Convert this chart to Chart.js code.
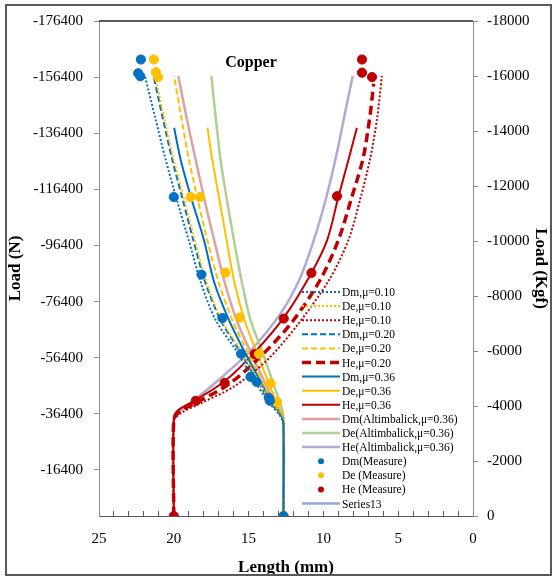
<!DOCTYPE html>
<html>
<head>
<meta charset="utf-8">
<script src="https://cdn.jsdelivr.net/npm/chart.js@4/dist/chart.umd.min.js"></script>
<style>
  html, body { margin: 0; padding: 0; background: #fff; }
  #wrap { position: relative; width: 557px; height: 581px; }
  #frame { position: absolute; left: 5px; top: 4px; width: 543px; height: 568px; border: 2px solid #595959; pointer-events: none; }
  canvas { position: absolute; left: 0; top: 0; }
</style>
</head>
<body>
<div id="wrap">
  <canvas id="chart" width="557" height="581"></canvas>
  <div id="frame"></div>
</div>
<script>
/* ===========================
   DATA  (length mm, load Kgf)
=========================== */

const loadTicksN = [-176400, -156400, -136400, -116400, -96400, -76400, -56400, -36400, -16400];

// model curves, [length, load]
const dm010 = [[12.67, 0], [12.67, -3300], [12.9, -3650], [13.6, -4100], [14.6, -4900], [15.8, -6000], [17.2, -7120], [18.2, -8500], [19.0, -10030], [19.8, -11500], [20.53, -12930], [21.25, -14500], [21.93, -16000]];
const de010 = [[12.67, 0], [12.67, -3300], [12.85, -3650], [13.45, -4100], [14.35, -4900], [15.5, -6000], [16.8, -7120], [17.8, -8500], [18.6, -10030], [19.3, -11500], [20.0, -12930], [20.65, -14500], [21.25, -16000]];
const he010 = [[20, 0], [20, -3450], [19.5, -3750], [18.2, -4100], [16.0, -4700], [13.8, -5650], [11.8, -6900], [9.6, -8600], [8.33, -10030], [7.5, -11600], [6.87, -13000], [6.4, -14500], [6.09, -16000]];
const dm020 = [[12.67, 0], [12.67, -3300], [12.85, -3650], [13.5, -4100], [14.4, -4900], [15.6, -6000], [16.87, -7120], [17.9, -8500], [18.69, -10030], [19.4, -11500], [20.09, -12930], [20.75, -14500], [21.35, -16000]];
const de020 = [[12.67, 0], [12.67, -3350], [12.8, -3650], [13.35, -4100], [14.1, -4900], [15.1, -6000], [16.09, -7120], [17.0, -8500], [17.76, -10030], [18.4, -11500], [18.98, -12930], [19.5, -14500], [19.98, -16000]];
const he020 = [[20, 0], [20, -3500], [19.6, -3800], [18.4, -4150], [16.3, -4800], [14.2, -5800], [12.1, -7050], [10.2, -8600], [9.0, -10030], [8.1, -11600], [7.35, -13000], [6.9, -14500], [6.64, -15720]];
const dm036 = [[12.67, 0], [12.67, -3350], [12.8, -3650], [13.4, -4100], [14.2, -4900], [15.3, -6000], [16.31, -7120], [17.3, -8500], [17.98, -10030], [18.8, -11500], [19.53, -12930], [19.98, -14120]];
const de036 = [[12.67, 0], [12.67, -3400], [12.75, -3700], [13.1, -4100], [13.7, -4900], [14.5, -6000], [15.27, -7120], [15.95, -8500], [16.47, -10030], [16.95, -11500], [17.42, -12930], [17.75, -14120]];
const he036 = [[20, 0], [20, -3550], [19.7, -3850], [18.6, -4200], [16.6, -4900], [14.6, -5950], [12.6, -7250], [10.8, -8840], [9.75, -10030], [9.0, -11600], [8.3, -13000], [7.76, -14120]];
const dmAlt = [[12.67, 0], [12.67, -3350], [12.78, -3650], [13.25, -4100], [13.95, -4900], [14.9, -6000], [15.8, -7120], [16.6, -8500], [17.3, -10030], [17.95, -11500], [18.53, -12930], [19.15, -14500], [19.7, -16000]];
const deAlt = [[12.67, 0], [12.67, -3500], [12.72, -3800], [12.95, -4200], [13.4, -4900], [14.1, -6000], [14.87, -7120], [15.45, -8500], [15.98, -10030], [16.45, -11500], [16.87, -12930], [17.2, -14500], [17.49, -16000]];
const heAlt = [[20, 0], [20, -3500], [19.6, -3800], [18.9, -4100], [17.1, -4900], [14.9, -6000], [12.87, -7360], [11.6, -8600], [10.64, -10030], [9.8, -11600], [9.1, -13200], [8.5, -14800], [8.04, -16000]];
const series13 = [];

// measured points, [length, load]
const dmMeasure = [[22.2, -16600], [22.38, -16100], [22.24, -15990], [20.0, -11600], [18.15, -8780], [16.75, -7200], [15.5, -5900], [14.87, -5060], [14.47, -4880], [13.65, -4300], [13.58, -4190], [12.67, 0]];
const deMeasure = [[21.33, -16600], [21.2, -16140], [21.05, -15960], [18.87, -11600], [18.25, -11600], [16.55, -8850], [15.58, -7220], [14.3, -5890], [13.53, -4820], [13.09, -4150], [12.65, 0]];
const heMeasure = [[7.42, -16600], [7.42, -16120], [6.75, -15960], [9.09, -11630], [10.8, -8840], [12.65, -7180], [14.6, -5890], [16.6, -4840], [18.53, -4190], [20, 0]];

/* ===========================
   DATASETS
=========================== */

const BLUE = '#0070C0';
const YELLOW = '#FFC000';
const RED = '#C00000';

const toXY = pts => pts.map(p => ({ x: p[0], y: p[1] }));

function curve(label, pts, color, width, dash) {
  return {
    label,
    data: toXY(pts),
    showLine: true,
    borderColor: color,
    backgroundColor: color,
    borderWidth: width,
    borderDash: dash,
    pointRadius: 0,
    tension: 0.3,
    yAxisID: 'yKgf',
    order: 1
  };
}

function measured(label, pts, color) {
  return {
    label,
    data: toXY(pts),
    showLine: false,
    backgroundColor: color,
    borderColor: color,
    pointRadius: 4.6,
    pointHoverRadius: 4.6,
    yAxisID: 'yKgf',
    order: 0
  };
}

const dotted = [2, 2];
const dashed = [6, 3];

const datasets = [
  curve('Dm,\u03bc=0.10', dm010, BLUE, 2, dotted),
  curve('De,\u03bc=0.10', de010, YELLOW, 2, dotted),
  curve('He,\u03bc=0.10', he010, RED, 2, dotted),
  curve('Dm,\u03bc=0.20', dm020, BLUE, 2, dashed),
  curve('De,\u03bc=0.20', de020, YELLOW, 2, dashed),
  curve('He,\u03bc=0.20', he020, RED, 3.5, [9, 5]),
  curve('Dm,\u03bc=0.36', dm036, BLUE, 2, []),
  curve('De,\u03bc=0.36', de036, YELLOW, 2, []),
  curve('He,\u03bc=0.36', he036, RED, 2, []),
  curve('Dm(Altimbalick,\u03bc=0.36)', dmAlt, '#D9A3A1', 2.5, []),
  curve('De(Altimbalick,\u03bc=0.36)', deAlt, '#AFCF94', 2.5, []),
  curve('He(Altimbalick,\u03bc=0.36)', heAlt, '#B3A8D0', 2.5, []),
  measured('Dm(Measure)', dmMeasure, BLUE),
  measured('De (Measure)', deMeasure, YELLOW),
  measured('He (Measure)', heMeasure, RED),
  curve('Series13', series13, '#8EA9DB', 2.5, [])
];

/* ===========================
   PLOT DECORATIONS
=========================== */

// legend inside the plot, caption, top frame line
const plotExtras = {
  id: 'plotExtras',
  afterDatasetsDraw(chart) {
    const { ctx, chartArea } = chart;
    ctx.save();

    ctx.strokeStyle = '#262626';
    ctx.lineWidth = 1.5;
    ctx.beginPath();
    ctx.moveTo(chartArea.left, chartArea.top);
    ctx.lineTo(chartArea.right, chartArea.top);
    ctx.stroke();

    ctx.fillStyle = '#000';
    ctx.font = 'bold 16px "Liberation Serif"';
    ctx.textAlign = 'center';
    ctx.textBaseline = 'middle';
    ctx.fillText('Copper', chartArea.left + 152, chartArea.top + 42);

    const x0 = chartArea.right - 171;
    const y0 = chartArea.top + 271;
    const rowH = 14.1;
    ctx.font = '11.5px "Liberation Serif"';
    ctx.textAlign = 'left';
    chart.data.datasets.forEach((ds, i) => {
      const y = y0 + i * rowH;
      if (ds.showLine === false) {
        ctx.fillStyle = ds.backgroundColor;
        ctx.beginPath();
        ctx.arc(x0 + 19, y, 3, 0, Math.PI * 2);
        ctx.fill();
      } else {
        ctx.setLineDash(ds.borderDash || []);
        ctx.lineWidth = ds.borderWidth;
        ctx.strokeStyle = ds.borderColor;
        ctx.beginPath();
        ctx.moveTo(x0, y);
        ctx.lineTo(x0 + 38, y);
        ctx.stroke();
        ctx.setLineDash([]);
      }
      ctx.fillStyle = '#000';
      ctx.fillText(ds.label, x0 + 40, y + 1);
    });

    ctx.restore();
  }
};

/* ===========================
   CHART
=========================== */

Chart.defaults.font.family = '"Liberation Serif", "Times New Roman", serif';
Chart.defaults.color = '#000';

const tickFont = { size: 15 };
const titleFont = { size: 17, weight: 'bold' };

new Chart(document.getElementById('chart'), {
  type: 'scatter',
  data: { datasets },
  options: {
    responsive: false,
    animation: false,
    layout: { padding: { top: 21, left: 0, right: 0, bottom: 0 } },
    plugins: {
      legend: { display: false },
      tooltip: { enabled: false }
    },
    scales: {
      x: {
        type: 'linear',
        min: 0,
        max: 25,
        reverse: true,
        border: { color: '#595959', width: 1 },
        grid: { drawOnChartArea: false, drawTicks: true, tickLength: -5, color: '#595959' },
        ticks: {
          stepSize: 1,
          autoSkip: false,
          maxRotation: 0,
          padding: 19,
          font: tickFont,
          callback: v => (v % 5 === 0 ? String(v) : '')
        },
        title: { display: true, text: 'Length (mm)', font: titleFont, padding: { top: 0, bottom: 3 } },
        afterFit: s => { s.height = 65; }
      },
      yN: {
        type: 'linear',
        position: 'left',
        min: -176400,
        max: 0,
        reverse: true,
        border: { color: '#8C8C8C', width: 1 },
        grid: { drawOnChartArea: false, tickLength: 5, color: '#8C8C8C' },
        afterBuildTicks: s => { s.ticks = loadTicksN.map(v => ({ value: v })); },
        ticks: { padding: 11, font: tickFont, callback: v => String(v) },
        title: { display: true, text: 'Load (N)', font: titleFont, padding: { top: 5, bottom: 0 } },
        afterFit: s => { s.width = 99; }
      },
      yKgf: {
        type: 'linear',
        position: 'right',
        min: -18000,
        max: 0,
        reverse: true,
        border: { color: '#8C8C8C', width: 1 },
        grid: { drawOnChartArea: false, tickLength: 5, color: '#8C8C8C' },
        ticks: { stepSize: 2000, padding: 9, font: tickFont, callback: v => String(v) },
        title: { display: true, text: 'Load (Kgf)', font: titleFont, padding: { top: 6, bottom: 0 } },
        afterFit: s => { s.width = 84; }
      }
    }
  },
  plugins: [plotExtras]
});
</script>
</body>
</html>
